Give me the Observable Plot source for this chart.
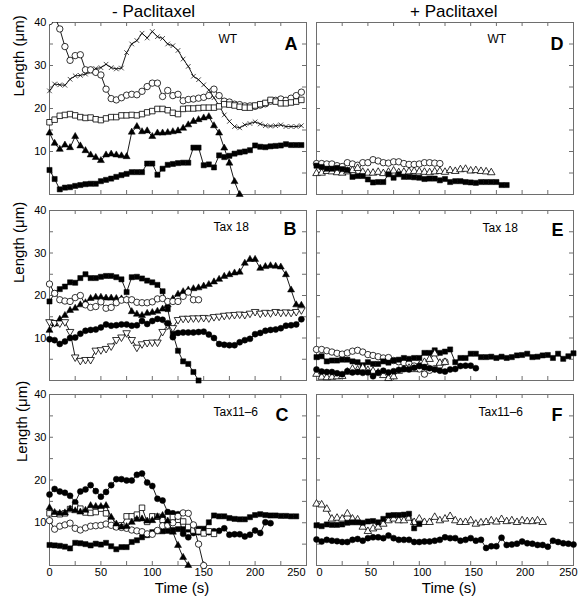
<!DOCTYPE html>
<html>
<head>
<meta charset="utf-8">
<script src="https://cdn.jsdelivr.net/npm/d3@7"></script>
<script src="https://cdn.jsdelivr.net/npm/@observablehq/plot@0.6"></script>
<style>
  body { margin: 0; background: #fff; }
  #fig { position: relative; width: 588px; height: 600px; font-family: "Liberation Sans", Arial, Helvetica, sans-serif; color: #000; }
  .coltitle { position: absolute; top: 3px; font-size: 17px; line-height: 17px; white-space: nowrap; }
</style>
</head>
<body>
<div id="fig">
  <div class="coltitle" style="left:112px">- Paclitaxel</div>
  <div class="coltitle" style="left:410px">+ Paclitaxel</div>
</div>
<script>
// ---------- sampling times (s) ----------
const times = [0,5,10,15,20,25,30,35,40,45,50,55,60,65,70,75,80,85,90,95,100,105,110,115,120,125,130,135,140,145,150,155,160,165,170,175,180,185,190,195,200,205,210,215,220,225,230,235,240,245,250];

// ---------- tick values ----------
const xMinorTicks = [25,50,75,100,125,150,175,200,225];
const yMinorTicks = [5,10,15,20,25,30,35];
const xTickLabels = [0,50,100,150,200];
const xLastLabel = [250];
const yTickLabels = [10,20,30,40];

// ---------- Panel A : WT, - Paclitaxel (lengths in µm) ----------
const aCross = [24.1,25.7,25.5,25.4,26.8,27.6,27.7,28.0,28.5,29.3,29.5,30.3,29.5,29.2,29.4,33.0,35.0,35.8,37.5,36.4,37.9,36.7,36.3,35.0,34.6,33.5,31.5,29.8,27.5,26.7,25.5,24.3,22.5,20.7,18.5,17.0,15.8,15.5,16.2,16.5,16.9,16.4,16.0,15.9,16.0,16.2,15.8,15.8,15.8,16.0];
const aOpenCircle = [40.2,41.5,38.5,34.4,31.2,32.3,32.5,29.0,29.0,28.4,27.8,24.5,22.3,22.0,22.5,23.1,23.3,23.2,24.0,25.1,25.9,25.9,22.8,24.2,23.0,23.3,21.8,22.1,22.2,22.4,22.6,23.0,24.5,23.0,21.7,21.5,21.0,20.9,20.6,20.6,20.5,20.8,21.1,21.7,21.9,22.2,21.9,22.4,23.0,23.8];
const aOpenSquare = [16.8,17.4,18.3,18.5,18.7,18.4,18.0,17.8,17.9,17.5,17.3,17.7,18.0,18.0,18.4,18.4,18.5,18.4,18.7,19.1,19.4,19.9,19.9,19.6,19.0,18.7,19.9,20.0,20.0,20.1,20.2,20.2,20.2,20.5,21.0,20.9,20.7,20.4,20.2,20.2,20.7,21.0,21.3,22.0,21.6,21.2,21.2,21.4,21.6,22.0];
const aFilledTriangle = [14.3,11.9,10.5,11.5,10.9,13.5,11.3,10.2,9.2,8.6,7.9,9.2,9.4,9.2,9.0,8.8,14.5,15.8,14.6,14.8,13.5,14.3,14.3,14.4,14.6,14.8,15.4,16.2,17.0,17.4,17.8,18.1,16.0,14.3,10.8,7.3,3.0,0];
const aFilledSquare = [5.7,3.6,1.2,1.6,1.7,2.0,2.2,2.4,2.5,2.5,3.1,3.4,3.7,4.1,4.5,4.8,5.2,5.2,5.2,7.2,7.2,4.6,6.0,6.9,7.1,7.3,7.4,7.4,10.9,10.9,6.8,7.0,6.3,9.1,8.7,9.0,9.5,9.8,10.0,10.3,11.4,11.1,11.0,11.2,11.3,11.4,11.7,11.5,11.5,11.5];

// ---------- Panel B : Tax 18, - Paclitaxel ----------
const bFilledSquare = [18.6,20.5,21.5,22.1,23.1,23.0,24.1,25.0,24.1,24.1,24.4,24.6,24.6,24.3,23.8,20.8,24.3,24.4,24.0,23.5,23.1,22.5,21.0,16.8,11.0,7.0,4.5,3.9,2.0,0];
const bFilledTriangle = [11.8,13.3,14.4,15.3,16.5,17.0,17.8,18.3,19.3,19.6,19.6,19.4,19.4,19.3,19.2,19.0,16.2,15.6,15.3,15.8,16.0,16.3,16.8,17.8,19.2,20.3,20.9,21.3,21.6,21.8,22.2,22.6,23.2,23.8,24.5,24.9,25.3,25.5,27.6,28.5,28.5,26.4,26.8,27.0,26.9,26.7,24.9,21.3,17.8,17.7];
const bOpenCircle = [22.7,20.5,19.0,18.7,18.6,19.5,20.0,17.8,17.2,17.4,18.5,17.0,17.2,18.3,18.9,19.0,19.0,18.4,18.3,18.3,18.5,19.2,19.3,18.6,18.6,18.6,19.8,20.8,19.0,19.0];
const bOpenDownTriangle = [13.8,13.6,13.5,13.8,11.5,5.5,4.7,4.9,4.9,7.1,7.2,7.5,8.1,9.6,10.2,11.2,9.6,7.8,8.6,8.9,9.0,9.0,11.5,13.0,12.4,14.3,14.6,14.6,14.7,14.7,14.8,14.7,15.0,15.1,15.3,15.4,15.5,15.6,15.5,15.8,16.2,15.8,16.0,15.9,16.2,16.0,16.1,16.0,16.2,16.6];
const bFilledCircle = [9.7,9.5,8.6,9.2,10.0,10.1,11.0,11.7,11.9,12.0,12.5,13.2,12.9,13.0,13.2,13.2,12.9,13.0,14.0,13.3,14.0,14.5,14.3,13.5,10.2,11.2,11.3,11.3,11.3,11.4,11.5,10.8,10.0,8.6,8.4,8.3,8.3,9.0,9.5,9.8,10.9,11.2,11.7,11.9,12.0,12.3,12.9,13.0,13.2,14.4];

// ---------- Panel C : Tax11-6, - Paclitaxel ----------
const cFilledCircle = [16.6,17.9,17.3,17.0,16.3,14.8,17.3,17.8,18.8,17.4,16.1,17.2,18.8,20.2,20.2,19.9,19.9,21.2,21.5,19.4,18.6,15.6,15.2,12.5,12.2,12.0,7.4,6.6,7.6,7.8,7.8,7.8,8.0,8.1,8.7,7.2,7.3,7.3,6.8,7.2,8.2,7.6,10.1,9.9];
const cFilledSquare = [4.8,4.7,4.6,4.4,4.0,5.3,5.2,5.0,4.7,5.1,4.9,5.3,4.5,3.8,4.3,4.3,5.5,5.9,6.6,7.1,7.8,8.0,8.0,8.1,8.3,8.5,8.5,8.4,8.5,8.6,8.6,10.1,11.7,11.5,11.5,11.1,10.9,10.8,10.8,11.3,11.8,12.0,11.8,11.7,11.7,11.6,11.6,11.5,11.5];
const cOpenSquare = [12.2,12.1,12.0,12.2,13.2,13.7,13.3,12.4,12.3,12.5,13.3,12.2,10.3,9.1,9.4,11.5,11.5,11.9,13.5,10.2,11.5,11.4,10.7,11.3,11.3,10.7,10.3,9.0,8.2,8.0,7.5,8.0,7.4];
const cOpenCircle = [10.5,8.5,9.2,9.5,9.9,8.7,8.3,8.8,9.2,9.3,9.4,9.7,9.4,9.0,8.9,8.7,8.3,8.1,7.9,7.4,7.3,8.2,9.3,9.4,10.0,11.5,12.3,12.2,9.5,5.0,0];
const cFilledTriangle = [13.5,12.4,12.2,12.3,13.2,12.8,12.5,12.9,14.0,13.8,13.8,14.0,11.3,9.7,9.0,9.1,10.1,10.8,10.9,10.4,10.5,11.4,11.7,10.4,7.8,4.7,1.9,0];

// ---------- Panel D : WT, + Paclitaxel ----------
const dOpenCircle = [7.2,7.2,7.1,7.1,6.7,6.5,7.4,7.1,6.8,7.4,7.4,8.1,7.8,7.4,7.3,7.6,7.6,7.2,7.0,7.0,7.1,7.4,7.4,7.3,7.2];
const dOpenTriangle = [4.9,5.0,5.4,5.3,5.1,5.0,5.3,5.6,6.1,5.2,5.0,5.0,5.2,4.9,5.2,5.5,5.1,5.2,5.3,5.4,5.3,5.2,5.1,5.3,5.4,5.2,5.6,5.4,5.8,5.9,5.5,5.6,5.4,5.3,5.1];
const dFilledSquare = [6.7,6.4,6.0,6.0,6.2,5.9,5.7,4.1,4.3,4.3,3.5,2.8,2.9,2.9,4.7,3.9,4.7,4.1,4.1,4.0,3.9,3.6,3.7,3.7,3.3,3.6,2.9,3.1,3.1,2.9,2.8,2.7,2.9,2.9,2.9,2.9,2.2,2.2];

// ---------- Panel E : Tax 18, + Paclitaxel ----------
const eOpenCircle = [7.3,7.3,7.0,6.7,6.4,6.2,6.5,6.9,7.1,6.7,6.1,5.9,5.6,5.3,5.4,4.7,4.4,4.2,4.0,3.4,2.7,1.5,2.4,2.8,3.6,4.4];
const eFilledSquare = [5.5,5.7,4.5,4.7,4.7,4.9,4.9,4.5,4.3,3.6,4.3,3.9,3.9,4.5,4.2,4.7,4.9,5.3,5.1,5.3,5.3,6.5,6.5,7.1,6.5,6.8,7.3,4.3,5.3,5.3,6.3,6.3,5.5,5.5,5.6,5.3,5.6,5.3,5.5,5.9,6.0,6.3,5.5,5.6,5.9,6.0,5.3,6.3,5.1,5.7,6.4];
const eOpenTriangle = [1.5,0.8,0.7,0.8,0.9,1.0,2.0,2.7,2.5,3.0,2.4,2.2,1.8,1.2,0.5,0.9,2.2,2.6,2.9,2.6,3.5,4.3,5.0,6.3,4.1,4.3];
const eFilledCircle = [2.6,2.1,2.0,2.0,1.7,1.5,2.2,1.9,2.0,1.8,1.9,1.0,1.8,2.3,1.9,2.2,2.5,2.7,2.6,3.0,3.4,3.1,2.9,2.6,2.3,2.1,2.6,2.7,3.4,3.5,3.5,2.9];

// ---------- Panel F : Tax11-6, + Paclitaxel ----------
const fOpenTriangle = [14.4,14.2,13.2,10.9,11.1,10.9,12.1,10.9,10.7,9.0,8.0,8.6,9.0,9.7,10.5,10.9,10.5,10.5,11.1,10.1,10.9,10.1,10.1,11.3,10.5,10.9,11.5,10.5,10.1,10.1,10.5,9.7,10.0,10.1,10.5,10.2,10.8,10.3,10.5,10.1,10.5,10.3,10.3,10.5,10.1];
const fFilledSquare = [9.4,9.2,9.6,9.5,9.5,9.6,10.0,10.1,10.1,10.0,10.3,10.4,10.1,10.9,11.7,11.8,11.8,11.9,12.1,8.7,9.7];
const fFilledCircle = [6.1,5.6,6.0,5.8,5.7,5.5,5.5,6.0,6.2,5.8,6.4,6.6,6.6,6.4,7.0,6.4,6.0,6.0,6.0,5.5,5.5,5.6,5.6,5.8,6.0,6.6,6.4,6.4,5.8,6.0,6.4,5.8,6.0,4.1,4.5,4.5,6.5,4.8,4.9,5.1,5.6,5.2,5.1,4.8,4.8,4.4,5.8,5.5,5.2,5.1,4.9];

// ---------- custom symbols ----------
const sqrt3 = Math.sqrt(3);
const triangleDown = {
  draw(context, size) {
    const y = -Math.sqrt(size / (sqrt3 * 3));
    context.moveTo(0, -y * 2);
    context.lineTo(-sqrt3 * y, y);
    context.lineTo(sqrt3 * y, y);
    context.closePath();
  }
};
const timesSymbol = {
  draw(context, size) {
    const r = Math.sqrt(size) * 0.5;
    context.moveTo(-r, -r); context.lineTo(r, r);
    context.moveTo(-r, r); context.lineTo(r, -r);
  }
};

const STYLES = {
  openCircle:       {symbol: "circle",   fill: "white", stroke: "black", strokeWidth: 0.8, r: 3.2},
  filledCircle:     {symbol: "circle",   fill: "black", stroke: "black", strokeWidth: 0.5, r: 3.0},
  openSquare:       {symbol: "square",   fill: "white", stroke: "black", strokeWidth: 0.8, r: 3.1},
  filledSquare:     {symbol: "square",   fill: "black", stroke: "black", strokeWidth: 0.5, r: 2.9},
  filledTriangle:   {symbol: "triangle", fill: "black", stroke: "black", strokeWidth: 0.5, r: 2.6},
  openTriangle:     {symbol: "triangle", fill: "white", stroke: "black", strokeWidth: 0.8, r: 2.8},
  openDownTriangle: {symbol: triangleDown, fill: "white", stroke: "black", strokeWidth: 0.8, r: 2.8},
  cross:            {symbol: timesSymbol, fill: "none", stroke: "black", strokeWidth: 0.7, r: 2.6}
};

const W = 257;
const panels = [
  {letter: "A", cond: "WT",      fx: 49,  fy: 22,  h: 172, left: true,  bottom: false, lDx: -9,  lDy: 27, cDx: 169, cDy: 20,   yLabDx: -30, yLabDy: -12,
   series: [["cross", aCross], ["openCircle", aOpenCircle], ["openSquare", aOpenSquare], ["filledTriangle", aFilledTriangle], ["filledSquare", aFilledSquare]]},
  {letter: "D", cond: "WT",      fx: 316, fy: 22,  h: 172, left: false, bottom: false, lDx: -10, lDy: 27, cDx: 171, cDy: 20,
   series: [["openCircle", dOpenCircle], ["openTriangle", dOpenTriangle], ["filledSquare", dFilledSquare]]},
  {letter: "B", cond: "Tax 18",  fx: 49,  fy: 210, h: 170, left: true,  bottom: false, lDx: -10, lDy: 24, cDx: 164, cDy: 20.5, yLabDx: -30, yLabDy: -12.5,
   series: [["filledSquare", bFilledSquare], ["filledTriangle", bFilledTriangle], ["openCircle", bOpenCircle], ["openDownTriangle", bOpenDownTriangle], ["filledCircle", bFilledCircle]]},
  {letter: "E", cond: "Tax 18",  fx: 316, fy: 210, h: 170, left: false, bottom: false, lDx: -10, lDy: 25, cDx: 166, cDy: 21.5,
   series: [["openCircle", eOpenCircle], ["filledSquare", eFilledSquare], ["openTriangle", eOpenTriangle], ["filledCircle", eFilledCircle]]},
  {letter: "C", cond: "Tax11\u20136", fx: 49, fy: 394, h: 171, left: true, bottom: true, lDx: -18, lDy: 26, cDx: 164, cDy: 21.5, yLabDx: -27, yLabDy: -18,
   series: [["filledCircle", cFilledCircle], ["filledSquare", cFilledSquare], ["openSquare", cOpenSquare], ["openCircle", cOpenCircle], ["filledTriangle", cFilledTriangle]]},
  {letter: "F", cond: "Tax11\u20136", fx: 316, fy: 394, h: 171, left: false, bottom: true, lDx: -11, lDy: 26, cDx: 162, cDy: 21,
   series: [["openTriangle", fOpenTriangle], ["filledSquare", fFilledSquare], ["filledCircle", fFilledCircle]]}
];

const frameColor = "#6e6e6e";
const fig = document.getElementById("fig");

for (const p of panels) {
  const mL = p.left ? 50 : 4;
  const mR = p.left ? 6 : 10;
  const mT = 4;
  const mB = p.bottom ? 34 : 4;
  const width = mL + W + mR;
  const height = mT + p.h + mB;

  const marks = [
    Plot.frame({stroke: frameColor, strokeWidth: 1}),
    Plot.tickX(xMinorTicks, {x: d => d, insetTop: p.h - 4, stroke: frameColor}),
    Plot.tickX(xMinorTicks, {x: d => d, insetBottom: p.h - 4, stroke: frameColor}),
    Plot.tickY(yMinorTicks, {y: d => d, insetLeft: W - 4, stroke: frameColor}),
    Plot.tickY(yMinorTicks, {y: d => d, insetRight: W - 4, stroke: frameColor})
  ];

  if (p.left) {
    marks.push(Plot.axisY(yTickLabels, {tickSize: 0, tickPadding: 3, fontSize: 11, label: null}));
    marks.push(Plot.text(["Length (\u03bcm)"], {text: d => d, frameAnchor: "left", rotate: -90, dx: p.yLabDx, dy: p.yLabDy, fontSize: 15}));
  }
  if (p.bottom) {
    marks.push(Plot.axisX(xTickLabels, {tickSize: 0, tickPadding: 3, fontSize: 11, label: null, dx: p.left ? 0 : 3}));
    marks.push(Plot.axisX(xLastLabel, {tickSize: 0, tickPadding: 3, fontSize: 11, label: null, textAnchor: "end", dx: p.left ? -1 : 4}));
    marks.push(Plot.text(["Time (s)"], {text: d => d, frameAnchor: "bottom", lineAnchor: "bottom", dy: 27, dx: 4, fontSize: 15}));
  }

  for (const [styleName, values] of p.series) {
    const st = STYLES[styleName];
    const rows = values.map((v, i) => ({t: times[i], L: v}));
    const clip = d3.max(values) > 40;
    marks.push(Plot.line(rows, {x: "t", y: "L", stroke: "black", strokeWidth: 0.9, clip}));
    marks.push(Plot.dot(rows, {x: "t", y: "L", symbol: st.symbol, r: st.r, fill: st.fill, stroke: st.stroke, strokeWidth: st.strokeWidth, clip}));
  }

  marks.push(Plot.text([p.cond], {text: d => d, frameAnchor: "top-left", textAnchor: "start", lineAnchor: "bottom", dx: p.cDx, dy: p.cDy, fontSize: 12}));
  marks.push(Plot.text([p.letter], {text: d => d, frameAnchor: "top-right", textAnchor: "end", lineAnchor: "bottom", dx: p.lDx, dy: p.lDy, fontSize: 18, fontWeight: "bold"}));

  const svg = Plot.plot({
    width, height,
    marginLeft: mL, marginRight: mR, marginTop: mT, marginBottom: mB,
    x: {domain: [0, 250], axis: null},
    y: {domain: [0, 40], axis: null},
    style: {background: "none", overflow: "visible", fontFamily: "Liberation Sans, Arial, Helvetica, sans-serif", fontSize: "11px", color: "black"},
    marks
  });
  svg.style.position = "absolute";
  svg.style.left = (p.fx - mL) + "px";
  svg.style.top = (p.fy - mT) + "px";
  svg.style.maxWidth = "none";
  fig.appendChild(svg);
}
</script>
</body>
</html>
